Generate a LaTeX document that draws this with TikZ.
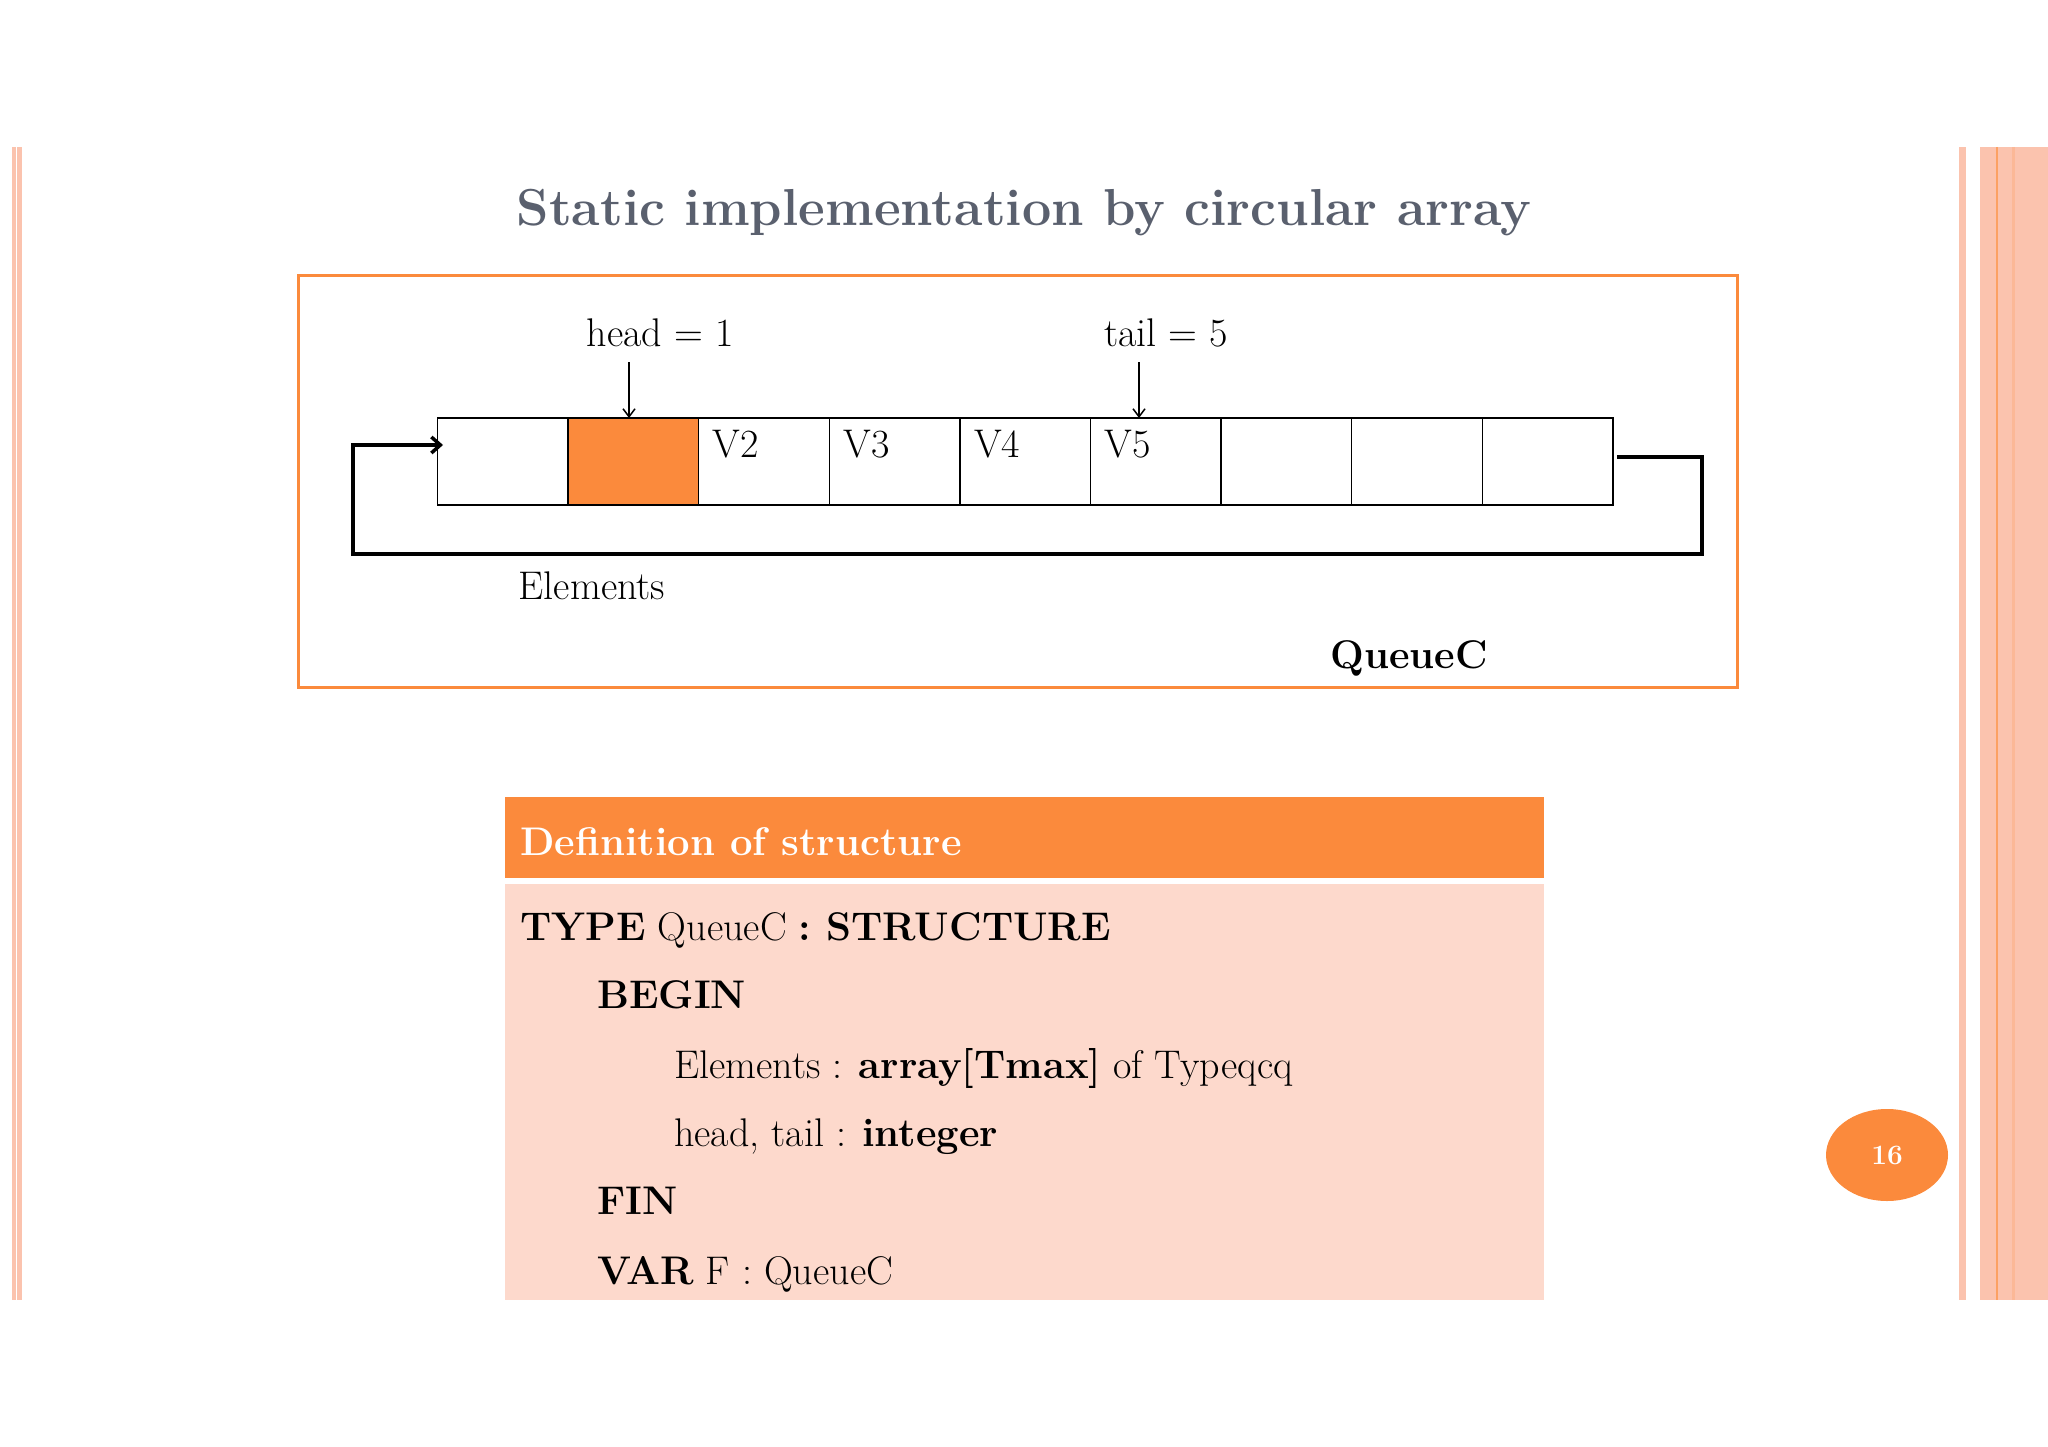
\documentclass[tikz,border=0pt]{standalone}
\usetikzlibrary{arrows.meta}
\definecolor{org}{HTML}{FB8A3C}
\definecolor{pk}{HTML}{FDD9CC}
\definecolor{bar}{HTML}{FBC3AE}
\definecolor{ttl}{HTML}{5A606E}
\tikzset{cell/.style={draw,line width=1.5pt,minimum width=130.6pt,minimum height=87pt,inner sep=0pt,outer sep=0pt},
 lbl/.style={font=\fontsize{40}{48}\selectfont,inner sep=0pt},
 code/.style={font=\fontsize{40}{48}\selectfont,anchor=base west,inner sep=0pt}}
\begin{document}
\begin{tikzpicture}[x=1pt,y=-1pt]
\useasboundingbox (0,0) rectangle (2048,1447);
% side bars
\fill[bar] (12,147) rectangle (22,1300);
\fill[white] (16,147) rectangle (17,1300);
\fill[bar] (1959,147) rectangle (1966,1300);
\fill[bar] (1980,147) rectangle (2048,1300);
\draw[org!80,line width=1.5pt] (1997,147) -- (1997,1300);
\draw[bar!80!org,line width=3pt] (2013,147) -- (2013,1300);
% title
\node[text=ttl,font=\fontsize{52}{60}\selectfont\bfseries\scshape] (title) at (1024,213) {Static implementation by circular array};
% frame
\draw[org,line width=3pt] (298,276) rectangle (1737,687);
% cells
\foreach \i/\t in {0/,1/,2/V2,3/V3,4/V4,5/V5,6/,7/,8/}{
  \node[cell] (c\i) at ({437.5+65.3+130.6*\i},461.5) {};
  \node[lbl,anchor=north west] (t\i) at ([xshift=14pt,yshift=-12pt]c\i.north west) {\t};
}
\fill[org] ([shift={(0.75pt,-0.75pt)}]c1.north west) rectangle ([shift={(-0.75pt,0.75pt)}]c1.south east);
\node[lbl] (head) at (660,333) {head = 1};
\node[lbl] (tail) at (1166,333) {tail = 5};
\coordinate (ha) at (629,362); \coordinate (ta) at (1139,362);
\draw[-{Straight Barb[length=8pt,width=12pt]},line width=1.5pt] (ha) -- (ha |- c1.north);
\draw[-{Straight Barb[length=8pt,width=12pt]},line width=1.5pt] (ta) -- (ta |- c5.north);
% loop
\coordinate (l1) at (1617,457); \coordinate (l2) at (1702,457); \coordinate (l3) at (1702,554);
\coordinate (l4) at (353,554); \coordinate (l5) at (353,445); \coordinate (l6) at (443,445);
\draw[line width=3.5pt,-{Straight Barb[length=9pt,width=16pt]}] (l1) -- (l2) -- (l3) -- (l4) -- (l5) -- (l6);
\node[lbl] (el) at (592,586) {Elements};
\node[lbl,font=\fontsize{40}{48}\selectfont\bfseries] (qc) at (1409,658) {QueueC};
% definition box
\fill[org] (505,797) rectangle (1544,878);
\node[code,text=white,font=\fontsize{40}{48}\selectfont\bfseries] (def) at (520,855) {Definition of structure};
\fill[pk] (505,884) rectangle (1544,1300);
\node[code] (a1) at (520,940) {\textbf{TYPE} QueueC \textbf{: STRUCTURE}};
\node[code] (a2) at (597,1008) {\textbf{BEGIN}};
\node[code] (a3) at (674,1078) {Elements : \textbf{array[Tmax]} of Typeqcq};
\node[code] (a4) at (674,1146) {head, tail : \textbf{integer}};
\node[code] (a5) at (597,1214) {\textbf{FIN}};
\node[code] (a6) at (597,1284) {\textbf{VAR} F : QueueC};
% page number
\fill[org] (1887,1155) ellipse (61 and 46);
\node[text=white,font=\fontsize{28}{32}\selectfont\bfseries] (pg) at (1887,1155) {16};
\end{tikzpicture}
\end{document}
